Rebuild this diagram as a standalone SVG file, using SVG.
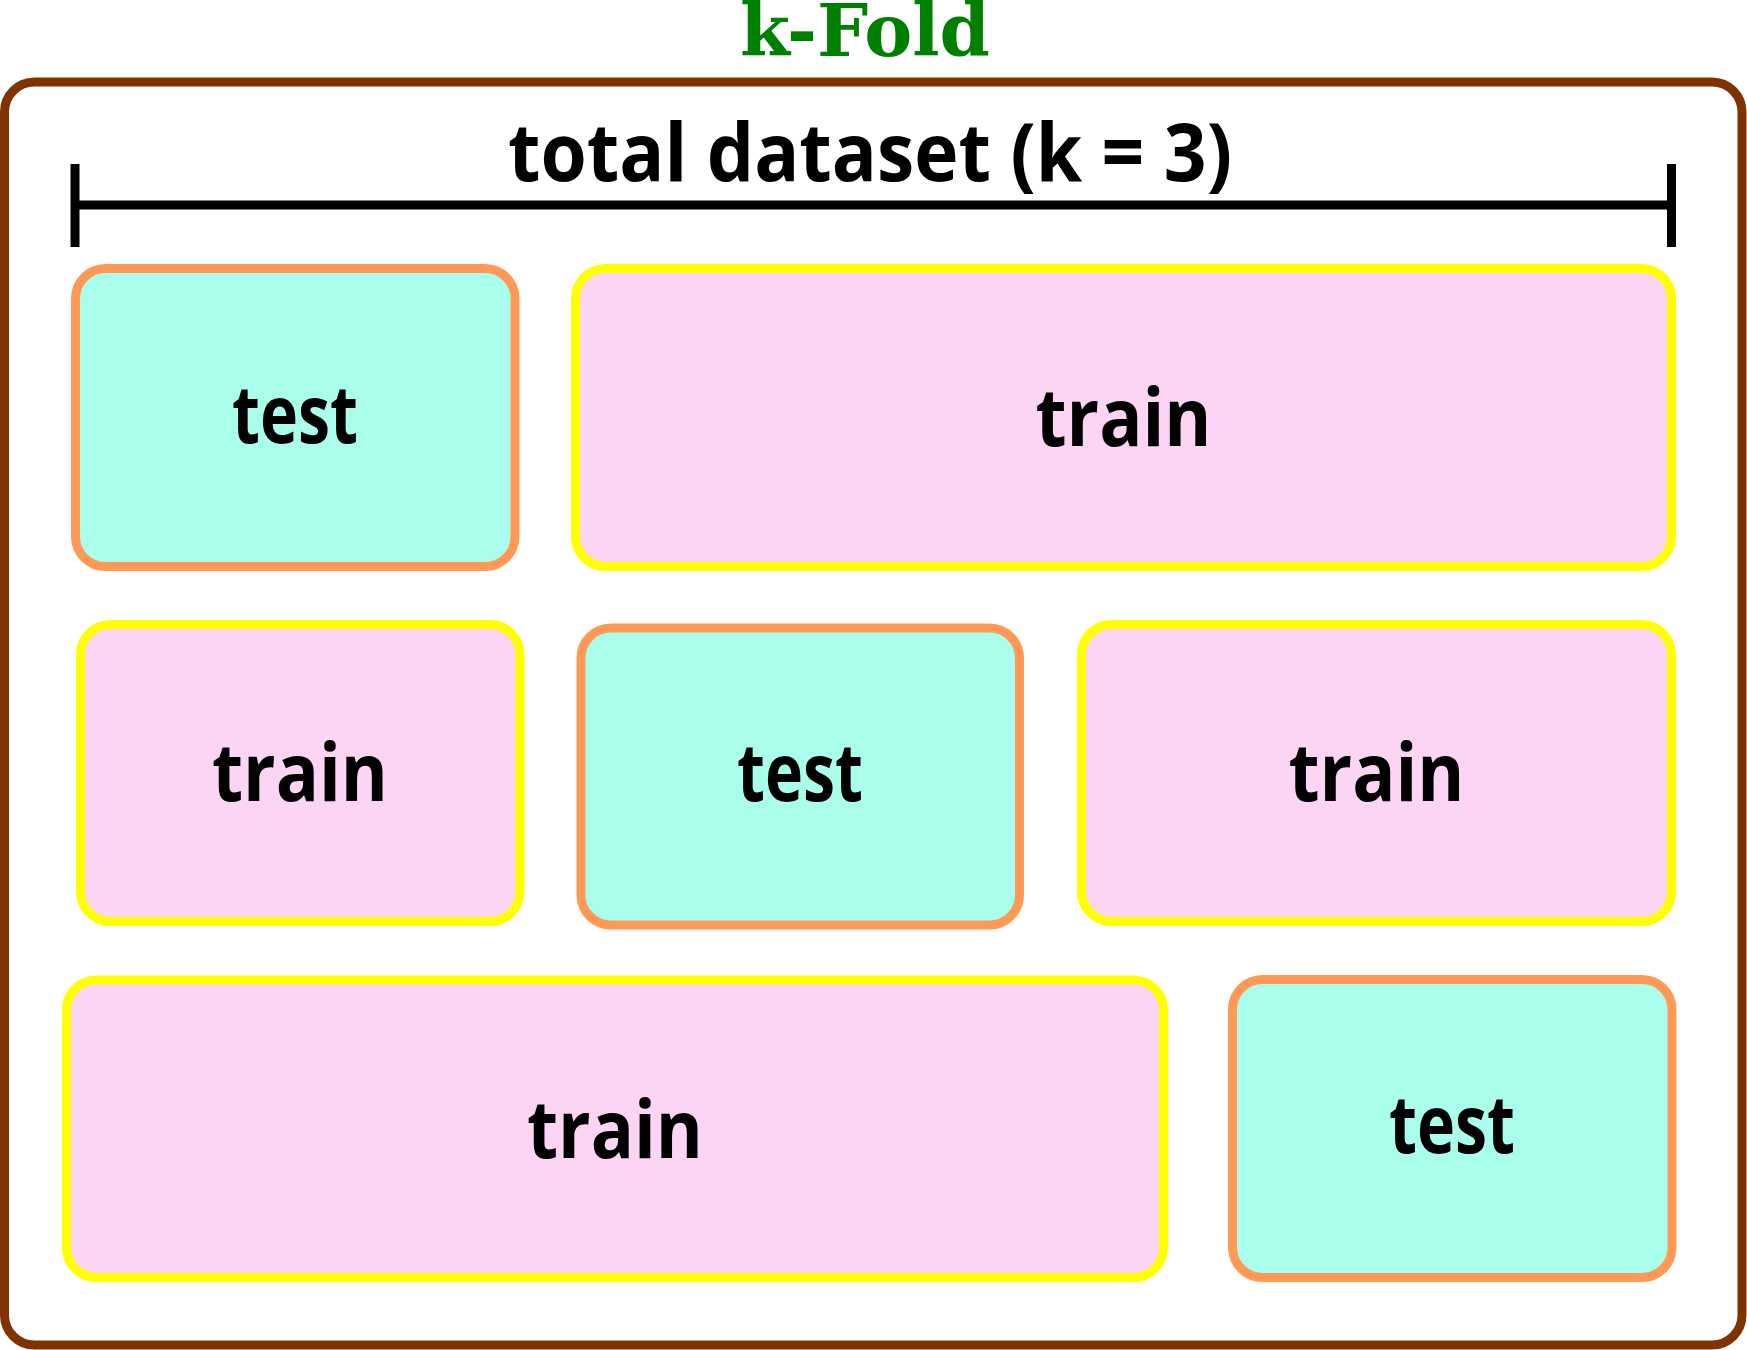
<svg xmlns="http://www.w3.org/2000/svg" width="1747" height="1350" viewBox="0 0 1747 1350">
  <style>
    .frame { fill: #ffffff; stroke: #803300; stroke-width: 9; }
    .test { fill: #aafeec; stroke: #ff9955; stroke-width: 9; }
    .train { fill: #fcd5f4; stroke: #ffff00; stroke-width: 9; }
    .lbl { font-family: "Open Sans", "Noto Sans", "DejaVu Sans", sans-serif; font-weight: bold; font-size: 80px; fill: #000000; text-anchor: middle; }
    .title { font-family: "DejaVu Serif", "Liberation Serif", serif; font-weight: bold; font-size: 72px; fill: #008000; text-anchor: middle; }
    .dim { stroke: #000000; stroke-width: 9; fill: none; }
  </style>
  <rect width="1747" height="1350" fill="#ffffff"/>
  <text class="title" x="865" y="56" textLength="250" lengthAdjust="spacingAndGlyphs">k-Fold</text>
  <g id="frame">
    <rect class="frame" x="4.5" y="82" width="1737.5" height="1263" rx="30" ry="30"/>
  </g>
  <g id="connectors">
    <line class="dim" x1="75" y1="164" x2="75" y2="247"/>
    <line class="dim" x1="1671.5" y1="164" x2="1671.5" y2="247"/>
    <line class="dim" x1="75" y1="205" x2="1671.5" y2="205"/>
  </g>
  <g id="dataset-label">
    <text class="lbl" x="870" y="181" textLength="724" lengthAdjust="spacingAndGlyphs">total dataset (k = 3)</text>
  </g>
  <g id="fold1-test">
    <rect class="test" x="75.5" y="268.5" width="439.5" height="298" rx="30" ry="30"/>
    <text class="lbl" x="295" y="443" textLength="126" lengthAdjust="spacingAndGlyphs">test</text>
  </g>
  <g id="fold1-train">
    <rect class="train" x="575.5" y="268.5" width="1096" height="298" rx="30" ry="30"/>
    <text class="lbl" x="1123.5" y="446" textLength="176" lengthAdjust="spacingAndGlyphs">train</text>
  </g>
  <g id="fold2-train-a">
    <rect class="train" x="80.5" y="624.5" width="439.5" height="297" rx="30" ry="30"/>
    <text class="lbl" x="300" y="801" textLength="176" lengthAdjust="spacingAndGlyphs">train</text>
  </g>
  <g id="fold2-test">
    <rect class="test" x="581" y="628" width="438.5" height="297" rx="30" ry="30"/>
    <text class="lbl" x="800" y="801" textLength="126" lengthAdjust="spacingAndGlyphs">test</text>
  </g>
  <g id="fold2-train-b">
    <rect class="train" x="1081.5" y="624.5" width="590" height="297" rx="30" ry="30"/>
    <text class="lbl" x="1376.5" y="801" textLength="176" lengthAdjust="spacingAndGlyphs">train</text>
  </g>
  <g id="fold3-train">
    <rect class="train" x="66.5" y="980" width="1097" height="297.5" rx="30" ry="30"/>
    <text class="lbl" x="615" y="1158" textLength="176" lengthAdjust="spacingAndGlyphs">train</text>
  </g>
  <g id="fold3-test">
    <rect class="test" x="1232.5" y="979.5" width="439.5" height="298" rx="30" ry="30"/>
    <text class="lbl" x="1452" y="1153" textLength="126" lengthAdjust="spacingAndGlyphs">test</text>
  </g>
</svg>
